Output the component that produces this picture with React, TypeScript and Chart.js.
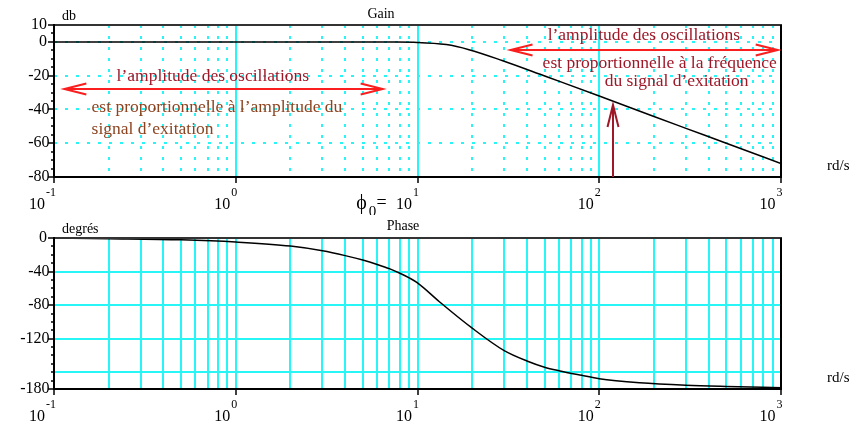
import React, { useEffect, useRef } from "react";
import { Chart, registerables } from "chart.js";
Chart.register(...registerables);

// ---- data ----
const gainFreq = [0.1, 1, 5, 7, 10, 14.4, 19.2, 29.2, 51, 100, 200, 300, 500, 1000];
const gainDb = [0, 0, 0, -0.1, -0.3, -1.6, -4.6, -11, -20.5, -32, -44.2, -51.2, -60, -72];

const phaseFreq = [0.1, 0.2, 0.5, 1, 2, 3, 4, 5, 6, 7, 8, 9, 10, 13.2, 20, 30, 40, 50, 60, 80, 100, 167, 300, 500, 1000];
const phaseDeg = [0, -0.8, -2.2, -4.8, -9.6, -15.2, -21, -26.3, -31.5, -36.5, -42, -47.5, -53.5, -76, -107.5, -134.3, -146.6, -154, -158.2, -163.7, -167.7, -172.5, -175.5, -177, -178.5];

// ---- axes ----
const decades = [0.1, 1, 10, 100, 1000];
const decadeExp = ["-1", "0", "1", "2", "3"];
const innerDecades = [1, 10, 100];
const minorFactors = [2, 3, 4, 5, 6, 7, 8, 9];
const gainLabels = [10, 0, -20, -40, -60, -80];
const gainGridY = [0, -20, -40, -60];
const phaseLabels = [0, -40, -80, -120, -180];
const phaseGridY = [-40, -80, -120, -160];

const SERIF = '"Liberation Serif", "Times New Roman", serif';
const CYAN = "rgb(40,245,245)";
const RED = "rgb(250,30,30)";
const DARKRED = "rgb(158,24,40)";
const BROWN = "rgb(140,68,32)";
const ANNOT = 17.5;

type Kind = "gain" | "phase";

function txt(ctx: CanvasRenderingContext2D, s: string, x: number, y: number, size: number, align: CanvasTextAlign = "left", color = "#000") {
  ctx.font = `${size}px ${SERIF}`;
  ctx.fillStyle = color;
  ctx.textAlign = align;
  ctx.textBaseline = "middle";
  ctx.fillText(s, x, y);
}

function line(ctx: CanvasRenderingContext2D, x1: number, y1: number, x2: number, y2: number) {
  ctx.beginPath();
  ctx.moveTo(x1, y1);
  ctx.lineTo(x2, y2);
  ctx.stroke();
}

function arrowHead(ctx: CanvasRenderingContext2D, tx: number, ty: number, dirx: number, diry: number) {
  const L = 22, W = 5.5;
  const px = -diry, py = dirx;
  ctx.beginPath();
  ctx.moveTo(tx + dirx * L + px * W, ty + diry * L + py * W);
  ctx.lineTo(tx, ty);
  ctx.lineTo(tx + dirx * L - px * W, ty + diry * L - py * W);
  ctx.stroke();
}

function makePlugin(kind: Kind) {
  return {
    id: "bode-" + kind,
    beforeDatasetsDraw(chart: any) {
      const { ctx, chartArea: a, scales } = chart;
      const x = scales.x, y = scales.y;
      ctx.save();
      ctx.strokeStyle = CYAN;
      ctx.lineWidth = 2;
      if (kind === "gain") ctx.setLineDash([3, 8]);
      for (const d of [0.1, 1, 10, 100]) {
        for (const f of minorFactors) {
          const px = Math.round(x.getPixelForValue(d * f));
          line(ctx, px, a.top, px, a.bottom);
        }
      }
      for (const v of kind === "gain" ? gainGridY : phaseGridY) {
        const py = Math.round(y.getPixelForValue(v));
        line(ctx, a.left, py, a.right, py);
      }
      ctx.setLineDash([]);
      for (const d of innerDecades) {
        const px = Math.round(x.getPixelForValue(d));
        line(ctx, px, a.top, px, a.bottom);
      }
      ctx.restore();
    },
    afterDatasetsDraw(chart: any) {
      const { ctx, chartArea: a, scales } = chart;
      const x = scales.x, y = scales.y;
      ctx.save();
      // frame
      ctx.lineWidth = 2;
      ctx.strokeStyle = "#333";
      line(ctx, a.left, Math.round(a.top), a.right + 1, Math.round(a.top));
      ctx.strokeStyle = "#000";
      line(ctx, Math.round(a.right), a.top, Math.round(a.right), a.bottom + 1);
      line(ctx, Math.round(a.left), a.top - 1, Math.round(a.left), a.bottom + 1);
      line(ctx, a.left - 1, Math.round(a.bottom), a.right + 1, Math.round(a.bottom));

      // y ticks
      const labels = kind === "gain" ? gainLabels : phaseLabels;
      const step = kind === "gain" ? 5 : 10;
      ctx.lineWidth = 1.5;
      for (let v = y.min; v <= y.max + 1e-9; v += step) {
        const py = Math.round(y.getPixelForValue(v));
        const major = labels.includes(v);
        line(ctx, a.left - (major ? 6 : 3), py, a.left, py);
      }
      for (const v of labels) {
        const py = y.getPixelForValue(v);
        txt(ctx, String(v), a.left - (v < 0 ? 4.5 : 7), py, 16, "right");
      }

      // x ticks and labels (10^n)
      ctx.lineWidth = 1.5;
      decades.forEach((d, i) => {
        const tx = x.getPixelForValue(d);
        line(ctx, Math.round(tx), a.bottom, Math.round(tx), a.bottom + 6);
        const e = decadeExp[i];
        ctx.font = `12px ${SERIF}`;
        const w = ctx.measureText(e).width;
        const expLeft = tx - w / 2 - 1.5 - Math.max(0, w - 6) * 0.35;
        txt(ctx, e, expLeft, a.bottom + 15.5, 12, "left");
        txt(ctx, "10", expLeft - 1, a.bottom + 28, 16, "right");
        if (kind === "gain" && d === 10) {
          txt(ctx, "\u03D5", tx - 56, a.bottom + 27, 20, "center");
          txt(ctx, "0", tx - 45, a.bottom + 35, 15, "center");
          txt(ctx, "=", tx - 36, a.bottom + 26, 18, "center");
        }
      });

      // titles & units
      if (kind === "gain") {
        txt(ctx, "Gain", 381, 14, 14, "center");
        txt(ctx, "db", 62, 16, 14, "left");
        txt(ctx, "rd/s", 827, 166, 15, "left");
      } else {
        txt(ctx, "Phase", 403, 11, 14, "center");
        txt(ctx, "degrés", 62, 14, 14, "left");
        txt(ctx, "rd/s", 827, 163, 15, "left");
      }

      // annotations (gain panel)
      if (kind === "gain") {
        const X = (v: number) => x.getPixelForValue(v);
        const Y = (v: number) => y.getPixelForValue(v);
        ctx.lineWidth = 2;
        ctx.strokeStyle = RED;
        const ly = Math.round(Y(-27.8));
        line(ctx, X(0.114), ly, X(6.43), ly);
        arrowHead(ctx, X(0.114), ly, 1, 0);
        arrowHead(ctx, X(6.43), ly, -1, 0);
        const ry = Math.round(Y(-4.6));
        line(ctx, X(32.5), ry, X(959), ry);
        arrowHead(ctx, X(32.5), ry, 1, 0);
        arrowHead(ctx, X(959), ry, -1, 0);
        ctx.strokeStyle = DARKRED;
        const vx = Math.round(X(119));
        line(ctx, vx, Y(-80), vx, Y(-37.3));
        arrowHead(ctx, vx, Y(-37.3), 0, 1);

        txt(ctx, "l\u2019amplitude des oscillations", X(0.221), Y(-20.5), ANNOT, "left", DARKRED);
        txt(ctx, "est proportionnelle à l\u2019amplitude du", X(0.161), Y(-38.5), ANNOT, "left", BROWN);
        txt(ctx, "signal d\u2019exitation", X(0.161), Y(-52), ANNOT, "left", BROWN);
        txt(ctx, "l\u2019amplitude des oscillations", X(52), Y(3.9), ANNOT, "left", DARKRED);
        txt(ctx, "est proportionnelle à la fréquence", X(48.8), Y(-12.5), ANNOT, "left", DARKRED);
        txt(ctx, "du signal d\u2019exitation", X(107.1), Y(-23.3), ANNOT, "left", DARKRED);
      }
      ctx.restore();
    },
  };
}

function makeChart(canvas: HTMLCanvasElement, kind: Kind) {
  const isGain = kind === "gain";
  const fx = isGain ? gainFreq : phaseFreq;
  const fy = isGain ? gainDb : phaseDeg;
  return new Chart(canvas, {
    type: "line",
    data: {
      datasets: [
        {
          data: fx.map((f, i) => ({ x: f, y: fy[i] })),
          borderColor: "#000",
          borderWidth: 1.5,
          pointRadius: 0,
          fill: false,
          cubicInterpolationMode: "monotone",
        },
      ],
    },
    options: {
      animation: false,
      responsive: false,
      events: [],
      layout: {
        padding: isGain
          ? { left: 54, right: 72, top: 25, bottom: 38 }
          : { left: 54, right: 72, top: 23, bottom: 40 },
      },
      plugins: { legend: { display: false }, tooltip: { enabled: false }, title: { display: false } },
      scales: {
        x: { type: "logarithmic", min: 0.1, max: 1000, display: false },
        y: { type: "linear", min: isGain ? -80 : -180, max: isGain ? 10 : 0, display: false },
      },
    } as any,
    plugins: [makePlugin(kind) as any],
  });
}

export default function App() {
  const gainRef = useRef<HTMLCanvasElement>(null);
  const phaseRef = useRef<HTMLCanvasElement>(null);
  useEffect(() => {
    const c1 = makeChart(gainRef.current!, "gain");
    const c2 = makeChart(phaseRef.current!, "phase");
    return () => {
      c1.destroy();
      c2.destroy();
    };
  }, []);
  return (
    <div style={{ position: "absolute", left: 0, top: 0, width: 853, height: 429, background: "#fff" }}>
      <canvas ref={gainRef} width={853} height={215} style={{ position: "absolute", left: 0, top: 0, width: 853, height: 215 }} />
      <canvas ref={phaseRef} width={853} height={214} style={{ position: "absolute", left: 0, top: 215, width: 853, height: 214 }} />
    </div>
  );
}
